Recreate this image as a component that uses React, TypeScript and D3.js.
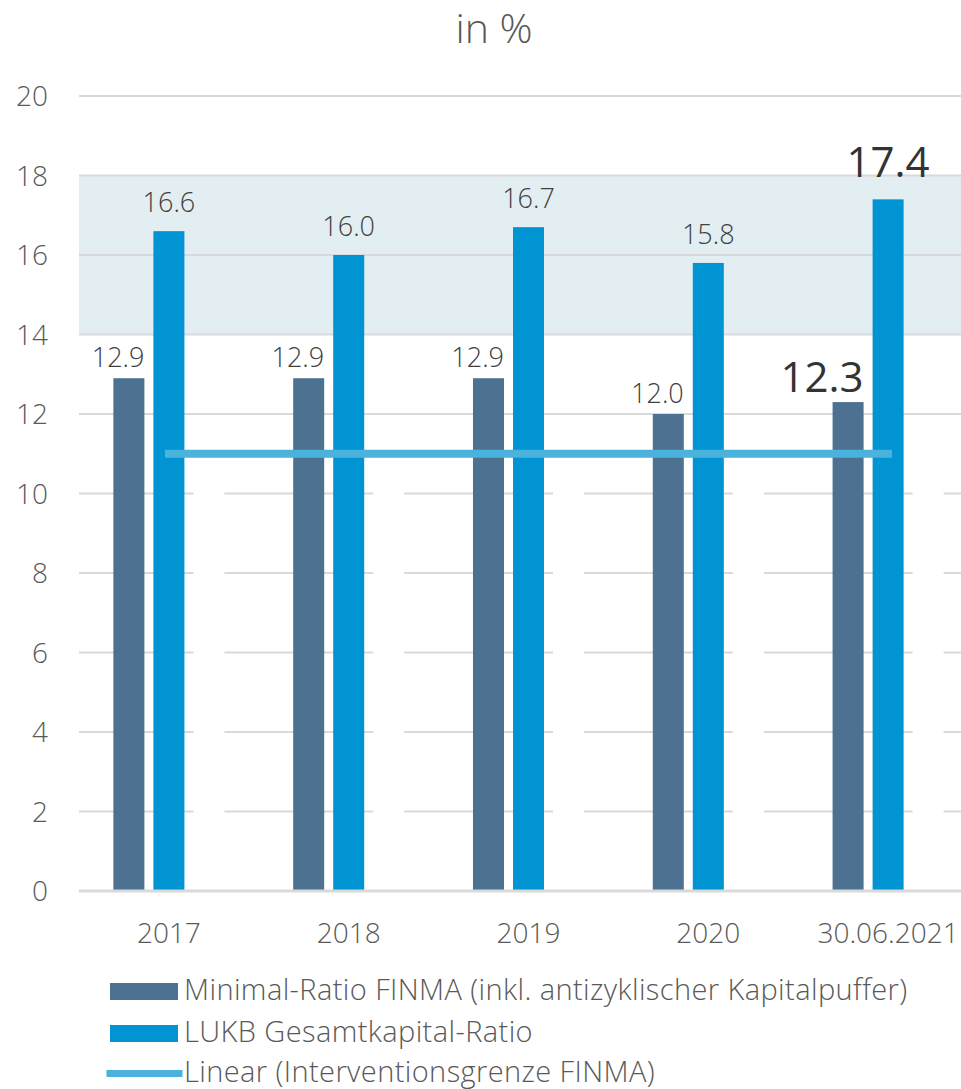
import React from 'react';
import * as d3 from 'd3';

const categories = ['2017', '2018', '2019', '2020', '30.06.2021'];
const minimalRatio = [12.9, 12.9, 12.9, 12.0, 12.3];
const lukbRatio = [16.6, 16.0, 16.7, 15.8, 17.4];
const interventionsgrenze = [11, 11, 11, 11, 11];
const yTicks = [0, 2, 4, 6, 8, 10, 12, 14, 16, 18, 20];
const bandRange = [14, 18];
const seriesKeys = ['min', 'lukb', 'grenze'];
const legendLabels = [
    'Minimal-Ratio FINMA (inkl. antizyklischer Kapitalpuffer)',
    'LUKB Gesamtkapital-Ratio',
    'Linear (Interventionsgrenze FINMA)',
];

const FONT = '"Open Sans", "Noto Sans", sans-serif';
const colors = { min: '#4C7191', lukb: '#0094D3', line: '#4BB1DD', grid: '#D9D9D9', band: '#E3EEF2' };

const App = () => {
    const width = 961;
    const height = 1089;
    const plot = { left: 79, right: 978, top: 96, bottom: 891 };

    const x0 = d3
        .scaleBand()
        .domain(categories)
        .range([plot.left, plot.right])
        .paddingInner(0.3825)
        .paddingOuter(0.3825 / 2);

    const x1 = d3.scaleBand().domain(seriesKeys).range([0, x0.bandwidth()]).paddingInner(0.225);

    const y = d3.scaleLinear().domain([0, 20]).range([plot.bottom, plot.top]);

    const center = (c) => x0(c) + x1('lukb') + x1.bandwidth() / 2;

    const trend = d3
        .line()
        .x((d, i) => center(categories[i]))
        .y((d) => y(d));

    const tickStyle = { fontSize: 28, fontWeight: 300 };
    const legendStyle = { fontSize: 29, fontWeight: 300, letterSpacing: 0.4 };

    return (
        <svg
            width={width}
            height={height}
            style={{ position: 'absolute', left: 0, top: 0, display: 'block', fontFamily: FONT }}
        >
            {/* title */}
            <text x={494} y={43} textAnchor="middle" fill="#595959" style={{ fontSize: 41, fontWeight: 300 }}>
                in %
            </text>

            {/* shaded band */}
            <rect
                x={plot.left}
                y={y(bandRange[1])}
                width={width - plot.left}
                height={y(bandRange[0]) - y(bandRange[1])}
                fill={colors.band}
            />

            {/* grid + y ticks */}
            {yTicks.map((t) => (
                <g key={t}>
                    {t > 0 && (
                        <line
                            x1={plot.left}
                            x2={width}
                            y1={y(t)}
                            y2={y(t)}
                            stroke={colors.grid}
                            strokeWidth={2}
                        />
                    )}
                    <text x={48} y={y(t)} dy="0.36em" textAnchor="end" fill="#595959" style={tickStyle}>
                        {t}
                    </text>
                </g>
            ))}

            {/* bars */}
            {categories.map((c, i) => (
                <g key={c} transform={`translate(${x0(c)},0)`}>
                    <rect
                        x={x1('min')}
                        y={y(minimalRatio[i])}
                        width={x1.bandwidth()}
                        height={y(0) - y(minimalRatio[i])}
                        fill={colors.min}
                    />
                    <rect
                        x={x1('lukb')}
                        y={y(lukbRatio[i])}
                        width={x1.bandwidth()}
                        height={y(0) - y(lukbRatio[i])}
                        fill={colors.lukb}
                    />
                    {/* hidden Interventionsgrenze bars (white) */}
                    <rect
                        x={x1('grenze')}
                        y={y(interventionsgrenze[i])}
                        width={x1.bandwidth()}
                        height={y(0) - y(interventionsgrenze[i])}
                        fill="#ffffff"
                    />
                </g>
            ))}

            {/* zero axis */}
            <line x1={plot.left} x2={width} y1={y(0)} y2={y(0)} stroke={colors.grid} strokeWidth={3} />

            {/* trendline */}
            <path
                d={trend(interventionsgrenze)}
                fill="none"
                stroke={colors.line}
                strokeWidth={8}
                strokeLinecap="square"
            />

            {/* data labels */}
            {categories.map((c, i) => {
                const last = i === categories.length - 1;
                const st = last ? { fontSize: 42, fontWeight: 500 } : { fontSize: 27, fontWeight: 300 };
                return (
                    <g key={c}>
                        <text
                            x={x0(c) + x1('min') + x1.bandwidth()}
                            y={y(minimalRatio[i]) - (last ? 10 : 11)}
                            textAnchor="end"
                            fill={last ? '#333333' : '#404040'}
                            style={st}
                        >
                            {minimalRatio[i].toFixed(1)}
                        </text>
                        <text
                            x={center(c)}
                            y={y(lukbRatio[i]) - (last ? 22 : 19)}
                            textAnchor="middle"
                            fill={last ? '#333333' : '#404040'}
                            style={st}
                        >
                            {lukbRatio[i].toFixed(1)}
                        </text>
                    </g>
                );
            })}

            {/* x labels */}
            {categories.map((c) => (
                <text key={c} x={center(c)} y={943} textAnchor="middle" fill="#595959" style={tickStyle}>
                    {c}
                </text>
            ))}

            {/* legend */}
            <g>
                <rect x={110} y={983} width={68} height={17} fill={colors.min} />
                <text x={184} y={1000} fill="#595959" style={legendStyle}>
                    {legendLabels[0]}
                </text>
                <rect x={110} y={1025} width={68} height={17} fill={colors.lukb} />
                <text x={184} y={1042} fill="#595959" style={legendStyle}>
                    {legendLabels[1]}
                </text>
                <line
                    x1={110}
                    x2={179}
                    y1={1073.5}
                    y2={1073.5}
                    stroke={colors.line}
                    strokeWidth={7}
                    strokeLinecap="square"
                />
                <text x={184} y={1082} fill="#595959" style={legendStyle}>
                    {legendLabels[2]}
                </text>
            </g>
        </svg>
    );
};

export default App;
